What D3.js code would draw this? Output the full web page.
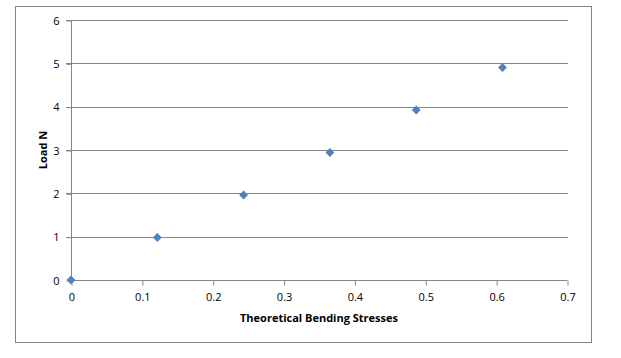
<!DOCTYPE html>
<html><head><meta charset="utf-8">
<script src="https://cdn.jsdelivr.net/npm/d3@7"></script>
<style>body{margin:0;background:#fff}svg{display:block}text{font-family:"Open Sans",sans-serif}</style>
</head><body>
<script>
const stresses = [0, 0.1218, 0.2436, 0.3654, 0.4872, 0.609];
const loads = [0, 0.981, 1.962, 2.943, 3.924, 4.905];
const xTicks = [0, 0.1, 0.2, 0.3, 0.4, 0.5, 0.6, 0.7];
const yTicks = [0, 1, 2, 3, 4, 5, 6];
const xTitle = "Theoretical Bending Stresses";
const yTitle = "Load N";

const W = 621, H = 358;
const svg = d3.select("body").append("svg").attr("width", W).attr("height", H);
svg.append("rect").attr("x", 15.5).attr("y", 6.5).attr("width", 576).attr("height", 336)
  .attr("fill", "#fff").attr("stroke", "#868686").attr("stroke-width", 1);

const x = d3.scaleLinear().domain([0, 0.7]).range([71, 567]);
const y = d3.scaleLinear().domain([0, 6]).range([280, 20]);
const grid = "#868686";

// gridlines
svg.append("g").selectAll("line").data(yTicks.filter(d => d > 0)).join("line")
  .attr("x1", 66).attr("x2", x(0.7) + 1)
  .attr("y1", d => Math.round(y(d)) + 0.5).attr("y2", d => Math.round(y(d)) + 0.5)
  .attr("stroke", grid);

// y axis
const ya = svg.append("g").attr("transform", "translate(71.5,0.5)")
  .call(d3.axisLeft(y).tickValues(yTicks).tickSize(5).tickPadding(7).tickFormat(d3.format("d")));
ya.select(".domain").attr("stroke", grid).attr("d", `M0,${Math.round(y(6))}V${Math.round(y(0))}`);
ya.selectAll(".tick line").attr("stroke", grid);
ya.selectAll(".tick text").attr("font-size", 11).attr("fill", "#000").attr("font-family", "Open Sans");

// x axis
const xa = svg.append("g").attr("transform", `translate(0.5,${Math.round(y(0)) + 0.5})`)
  .call(d3.axisBottom(x).tickValues(xTicks).tickSize(5).tickPadding(8).tickFormat(d => d === 0 ? "0" : d3.format(".1f")(d)));
xa.select(".domain").attr("stroke", grid).attr("d", `M${x(0)},0H${x(0.7)}`);
xa.selectAll(".tick line").attr("stroke", grid);
xa.selectAll(".tick text").attr("font-size", 11).attr("fill", "#000").attr("font-family", "Open Sans");

// points
const sym = d3.symbol().type(d3.symbolDiamond2).size(50);
svg.append("g").selectAll("path").data(stresses.map((s, i) => [s, loads[i]])).join("path")
  .attr("d", sym)
  .attr("transform", d => `translate(${x(d[0])},${y(d[1])})`)
  .attr("fill", "#4F81BD");

// titles
svg.append("text").attr("x", 319).attr("y", 322).attr("text-anchor", "middle")
  .attr("font-size", 11).attr("font-weight", "bold").attr("fill", "#000").text(xTitle);
svg.append("text").attr("transform", "translate(47,150) rotate(-90)").attr("text-anchor", "middle")
  .attr("font-size", 11).attr("font-weight", "bold").attr("fill", "#000").text(yTitle);
</script>
</body></html>
